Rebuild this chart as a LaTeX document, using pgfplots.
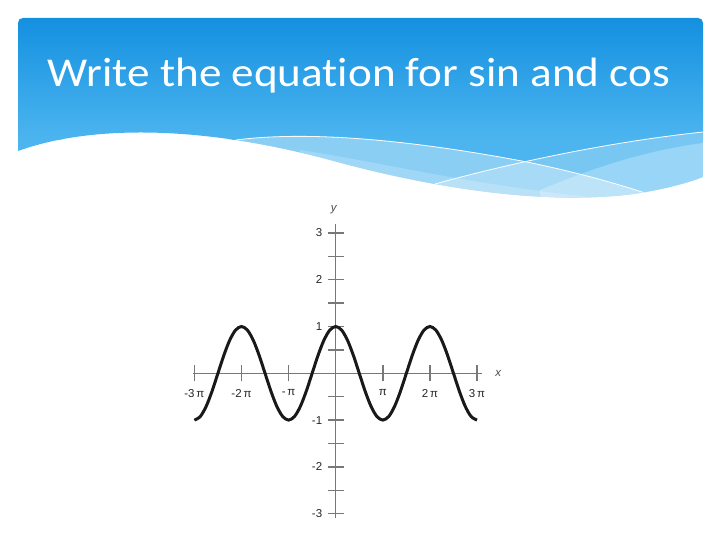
\documentclass[border=0pt]{standalone}
\usepackage{pgfplots}
\pgfplotsset{compat=1.18}
\usepackage{fontspec}
\setmainfont{Liberation Sans}
\newfontfamily\titlefont[Ligatures=NoCommon]{Carlito}
\definecolor{hdrTop}{RGB}{20,144,224}
\definecolor{hdrBot}{RGB}{76,181,239}
\definecolor{axgray}{RGB}{120,120,120}

\begin{document}
\begin{tikzpicture}[x=1pt,y=1pt]
\fill[white] (0,0) rectangle (720,540);
\begin{scope}
\clip (18,389) -- (18,517) .. controls (18,520) and (20,522) .. (23,522)
  -- (698,522) .. controls (701,522) and (703,520) .. (703,517)
  -- (703,363) .. controls (690,358) and (670,352) .. (640,347)
  .. controls (560,335) and (450,347) .. (330,380)
  .. controls (200,415) and (90,415) .. (18,389) -- cycle;
\shade[top color=hdrTop,bottom color=hdrBot] (18,400) rectangle (703,522);
\fill[hdrBot] (18,300) rectangle (703,400.5);
% bands
\fill[white,opacity=0.35] (236,400) .. controls (290,407) and (380,406) .. (527,378) .. controls (575,368) and (615,357) .. (645,347) -- (645,300) -- (236,300) -- cycle;
\fill[white,opacity=0.25] (435,356) .. controls (500,374) and (600,397) .. (703,408) -- (703,300) -- (435,300) -- cycle;
\fill[white,opacity=0.25] (540,350) .. controls (600,375) and (650,390) .. (703,397) -- (703,300) -- (540,300) -- cycle;
\fill[white,opacity=0.2] (300,390) .. controls (380,378) and (470,355) .. (600,342) -- (600,300) -- (300,300) -- cycle;
\draw[white,line width=0.8pt] (236,400) .. controls (290,407) and (380,406) .. (527,378) .. controls (575,368) and (615,357) .. (645,347);
\draw[white,line width=0.8pt] (435,356) .. controls (500,374) and (600,397) .. (703,408);
\end{scope}
\node[anchor=base,inner sep=0pt,text=white,font=\titlefont\fontsize{41}{48}\selectfont] at (359,453.3) {\resizebox{622pt}{\height}{Write the equation for sin and cos}};

\begin{axis}[
  at={(335.7pt,166.7pt)}, anchor=origin,
  scale only axis, width=288.3pt, height=294.8pt,
  xmin=-3.02, xmax=3.1, ymin=-3.1, ymax=3.2,
  axis lines=middle,
  axis line style={axgray,line width=1.4pt,-},
  clip=false,
  xtick={-3,-2,-1,1,2,3},
  xticklabels={-3\,π,-2\,π,-\,π,π,2\,π,3\,π},
  ytick={-3,-2,-1,1,2,3},
  yticklabels={-3,-2,-1,1,2,3},
  minor ytick={-2.5,-1.5,-0.5,0.5,1.5,2.5},
  tick align=center,
  major tick length=16pt, minor tick length=16pt,
  major tick style={axgray,line width=1.4pt},
  minor tick style={axgray,line width=1.4pt},
  tick label style={font=\fontsize{11.5}{13}\selectfont,text=black!85},
  xticklabel style={yshift=-5pt},
  yticklabel style={xshift=-2pt},
]
\addplot[black!90,line width=3pt,smooth] coordinates {
(-3,-1) (-2.875,-0.9239) (-2.75,-0.7071) (-2.625,-0.3827) (-2.5,0) (-2.375,0.3827) (-2.25,0.7071) (-2.125,0.9239)
(-2,1) (-1.875,0.9239) (-1.75,0.7071) (-1.625,0.3827) (-1.5,0) (-1.375,-0.3827) (-1.25,-0.7071) (-1.125,-0.9239)
(-1,-1) (-0.875,-0.9239) (-0.75,-0.7071) (-0.625,-0.3827) (-0.5,0) (-0.375,0.3827) (-0.25,0.7071) (-0.125,0.9239)
(0,1) (0.125,0.9239) (0.25,0.7071) (0.375,0.3827) (0.5,0) (0.625,-0.3827) (0.75,-0.7071) (0.875,-0.9239)
(1,-1) (1.125,-0.9239) (1.25,-0.7071) (1.375,-0.3827) (1.5,0) (1.625,0.3827) (1.75,0.7071) (1.875,0.9239)
(2,1) (2.125,0.9239) (2.25,0.7071) (2.375,0.3827) (2.5,0) (2.625,-0.3827) (2.75,-0.7071) (2.875,-0.9239)
(3,-1)};
\node[font=\itshape\fontsize{11.5}{13}\selectfont,text=black!70] at (axis cs:-0.04,3.49) {y};
\node[font=\itshape\fontsize{11.5}{13}\selectfont,text=black!70] at (axis cs:3.45,0) {x};
\end{axis}
\end{tikzpicture}
\end{document}
